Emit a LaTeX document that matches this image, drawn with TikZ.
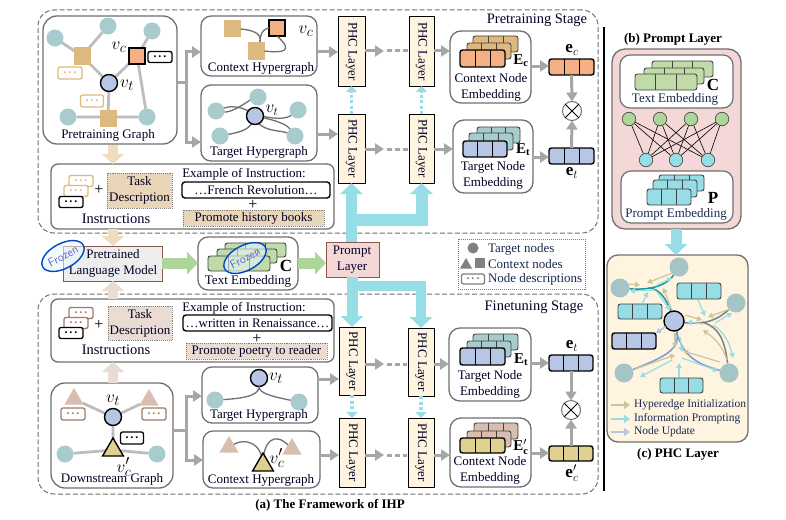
\documentclass[tikz,border=0pt]{standalone}
\usepackage{fontspec}
\setmainfont{Liberation Serif}
\usetikzlibrary{arrows.meta,shapes.geometric,calc}
\definecolor{teal1}{HTML}{A8CCCE}
\definecolor{tan1}{HTML}{DDB97F}
\definecolor{tan2}{HTML}{E9D6B8}
\definecolor{tanL}{HTML}{EFDDC0}
\definecolor{orange1}{HTML}{F4B084}
\definecolor{blue1}{HTML}{B8C6E6}
\definecolor{green1}{HTML}{C0DBA8}
\definecolor{green2}{HTML}{AED59A}
\definecolor{cyan1}{HTML}{96DDE6}
\definecolor{cream}{HTML}{FFF4DF}
\definecolor{pink1}{HTML}{F4D7D7}
\definecolor{rose1}{HTML}{D9BEB0}
\definecolor{rose2}{HTML}{EADCD2}
\definecolor{yellow1}{HTML}{E0D08F}
\definecolor{edgeg}{HTML}{BDBDBD}
\definecolor{arrg}{HTML}{A6A6A6}
\definecolor{frame}{HTML}{707070}
\definecolor{brownb}{HTML}{8A5A48}
\definecolor{tealD}{HTML}{1A9A94}
\definecolor{blueD}{HTML}{7F9AD6}
\definecolor{ctan}{HTML}{C9C79A}
\definecolor{txtb}{HTML}{1A2A50}
\tikzset{
  base/.style={rectangle,inner sep=0pt,outer sep=0pt},
  stagebox/.style={base,draw=frame,line width=1pt,dash pattern=on 5pt off 2.5pt,rounded corners=16pt},
  panel/.style={base,draw=frame,line width=1.3pt,rounded corners=10pt,fill=white},
  lay/.style={base,draw=black,line width=1pt,fill=cream},
  dotbox/.style={base,draw=gray,densely dotted,line width=.9pt},
  txt/.style={inner sep=0pt,outer sep=0pt,font=\fontsize{13}{14}\selectfont,text=black!85!blue},
  big/.style={inner sep=0pt,outer sep=0pt,font=\fontsize{14.5}{15}\selectfont,text=black!85!blue},
  plus/.style={inner sep=0pt,outer sep=0pt,font=\fontsize{16}{16}\selectfont},
  small/.style={inner sep=0pt,outer sep=0pt,font=\fontsize{11.5}{12}\selectfont,text=txtb},
  legt/.style={inner sep=0pt,outer sep=0pt,anchor=west,font=\fontsize{13}{14}\selectfont,text=txtb},
  mid/.style={inner sep=0pt,outer sep=0pt,font=\fontsize{13}{14}\selectfont,text=txtb},
  ttl/.style={inner sep=0pt,outer sep=0pt,font=\bfseries\fontsize{13}{14}\selectfont},
  mathl/.style={inner sep=0pt,font=\fontsize{19}{19}\selectfont},
  mathe/.style={inner sep=0pt,font=\fontsize{15}{15}\selectfont},
  mathv/.style={inner sep=0pt,font=\fontsize{17}{17}\selectfont},
  boldl/.style={inner sep=0pt,font=\bfseries\fontsize{17}{17}\selectfont},
  tealn/.style={circle,fill=teal1,inner sep=0pt,outer sep=0pt,minimum size=17pt},
  vt/.style={circle,draw=black,line width=1.4pt,fill=blue1,inner sep=0pt,outer sep=0pt,minimum size=17pt},
  sqr/.style={rectangle,fill=tan1,inner sep=0pt,outer sep=0pt,minimum size=17pt},
  sqo/.style={rectangle,fill=orange1,draw=black,line width=1.4pt,inner sep=0pt,outer sep=0pt,minimum size=16pt},
  trir/.style={regular polygon,regular polygon sides=3,fill=rose1,inner sep=0pt,outer sep=0pt,minimum size=22pt},
  triy/.style={regular polygon,regular polygon sides=3,fill=yellow1,draw=black,line width=1.4pt,inner sep=0pt,outer sep=0pt,minimum size=24pt},
  gedge/.style={draw=edgeg,line width=2.8pt},
  hedge/.style={draw=frame,line width=1.3pt},
  garr/.style={draw=arrg,line width=3pt,-{Triangle[length=9pt,width=11pt]}},
  fatg/.style={draw=green2,line width=11pt,-{Triangle[length=11pt,width=22pt]}},
  fatc/.style={draw=cyan1,line width=11pt,-{Triangle[length=11pt,width=22pt]}},
  fatt/.style={draw=tanL,line width=10pt,-{Triangle[length=10pt,width=22pt]}},
  fatr/.style={draw=rose2,line width=10pt,-{Triangle[length=10pt,width=22pt]}},
  dotted cyan/.style={draw=cyan1,line width=3.2pt,dash pattern=on 3pt off 2.5pt,-{Triangle[length=6pt,width=11pt]}},
  dashes/.style={draw=arrg,line width=3pt,dash pattern=on 5pt off 3pt},
  frozen/.style={ellipse,draw=blue!65!cyan!80!black,line width=1.4pt,fill=cyan!8,fill opacity=.55,text opacity=1,text=black!35!blue!60!white,
     inner sep=0pt,outer sep=0pt,minimum width=46pt,minimum height=25pt,rotate=28,font=\fontsize{12}{12}\sffamily},
  sarr/.style={line width=1.2pt,-{Triangle[length=5pt,width=5.5pt]}},
  opr/.style={circle,draw=frame,line width=1pt,fill=white,inner sep=0pt,outer sep=0pt,minimum size=19pt},
}
% name, style, x1,y1,x2,y2
\newcommand\bx[6]{%
  \pgfmathsetmacro\bw{#5-#3}\pgfmathsetmacro\bh{#6-#4}%
  \pgfmathsetmacro\ccx{(#3+#5)/2}\pgfmathsetmacro\ccy{(#4+#6)/2}%
  \node[base,minimum width=\bw pt,minimum height=\bh pt,#2] (#1) at (\ccx,\ccy) {};}
% cell row: name, fill, x1,y1,x2,y2
\newcommand\cells[6]{%
  \bx{#1}{draw=black,line width=1.4pt,fill=#2,rounded corners=2.5pt}{#3}{#4}{#5}{#6}%
  \draw[black,line width=1pt] ($(#1.south west)!.3333!(#1.south east)$) -- ($(#1.north west)!.3333!(#1.north east)$);%
  \draw[black,line width=1pt] ($(#1.south west)!.6667!(#1.south east)$) -- ($(#1.north west)!.6667!(#1.north east)$);}
\newcommand\cellsT[6]{%
  \bx{#1}{draw=black!75,line width=.9pt,fill=#2,rounded corners=2.5pt}{#3}{#4}{#5}{#6}%
  \draw[black!75,line width=.9pt] ($(#1.south west)!.3333!(#1.south east)$) -- ($(#1.north west)!.3333!(#1.north east)$);%
  \draw[black!75,line width=.9pt] ($(#1.south west)!.6667!(#1.south east)$) -- ($(#1.north west)!.6667!(#1.north east)$);}
% dots box: name, colour, cx, cy, w, h
\newcommand\descbox[6]{%
  \node[base,draw=#2,line width=1.3pt,fill=white,rounded corners=2pt,minimum width=#5pt,minimum height=#6pt,text=#2,font=\bfseries\fontsize{12}{9}\selectfont] (#1) at (#3,#4) {.\kern2pt.\kern2pt.};}
% otimes: name, cx, cy
\newcommand\otim[3]{%
  \node[opr] (#1) at (#2,#3) {};%
  \draw[black,line width=.8pt] (#1.north west) -- (#1.south east) (#1.north east) -- (#1.south west);}
\begin{document}
\begin{tikzpicture}[x=1pt,y=-1pt]
\useasboundingbox (0,0) rectangle (786,519);
\fill[white] (0,0) rectangle (786,519);
% stage boxes
\bx{stageA}{stagebox}{38}{10}{598}{233}
\bx{stageB}{stagebox}{38}{294}{598}{494}
\draw[black,line width=1.6pt] (604,27) coordinate (sepA) -- (604,491) coordinate (sepB);
\node[big] (lblA) at (537,20) {Pretraining Stage};
\node[big] (lblB) at (534,307) {Finetuning Stage};
% ---- Pretraining graph
\bx{pg}{panel,rounded corners=14pt}{43}{16}{177}{144}
\node[tealn] (p1) at (55,38) {}; \node[tealn] (p2) at (108,26) {}; \node[tealn] (p3) at (152,31) {};
\node[tealn] (p4) at (68,117) {}; \node[tealn] (p5) at (147,117) {};
\coordinate (q1) at (82,56); \coordinate (q2) at (108,118); \coordinate (q3) at (137,56); \coordinate (q4) at (109,83);
\draw[gedge] (p1)--(q1) (p2)--(q1) (q1)--(q4) (p3)--(q3) (q3)--(q4) (q3)--(p5) (q4)--(q2) (p4)--(p5);
\node[sqr] (s1) at (q1) {}; \node[sqr] (s2) at (q2) {};
\node[sqo] (so) at (q3) {}; \node[vt] (pv) at (q4) {};
\descbox{d1}{tan1}{70}{73}{24}{12} \descbox{d2}{tan1}{92}{101}{23}{12} \descbox{d3}{black}{160}{57}{24}{11}
\node[mathl] (lvc) at (119,47) {$v_c$};
\node[mathl] (lvt) at (127,85) {$v_t$};
\node[txt] (tpg) at (108,135) {Pretraining Graph};
% Context hypergraph
\bx{ch}{panel}{201}{16}{317}{76}
\node[sqr] (c1) at (232,29) {}; \node[sqr] (c2) at (256,51) {}; \node[sqo] (c3) at (277,28) {};
\draw[hedge] (c1.east) .. controls (252,30) and (262,33) .. (260,42);
\draw[hedge] (c3.west) .. controls (266,28) and (260,31) .. (260,42);
\draw[hedge] (c2.east) .. controls (282,53) and (295,52) .. (c3.south);
\node[mathl] (lc2) at (306,31) {$v_c$};
\node[txt] (tch) at (261,68) {Context Hypergraph};
% Target hypergraph
\bx{th}{panel}{201}{85}{317}{161}
\node[tealn] (t1) at (258,97) {}; \node[tealn] (t2) at (216,111) {}; \node[tealn] (t3) at (298,110) {};
\node[tealn] (t4) at (220,136) {}; \node[tealn] (t5) at (295,136) {};
\draw[hedge] (t2) .. controls (232,113) and (250,100) .. (t1);
\draw[hedge] (t2) .. controls (235,104) and (250,110) .. (255,116);
\draw[hedge] (t3) .. controls (288,118) and (278,120) .. (262,116);
\draw[hedge] (255,116) .. controls (265,118) and (285,122) .. (t5);
\draw[hedge] (t4) .. controls (240,132) and (252,130) .. (255,116);
\draw[hedge] (255,116) .. controls (258,132) and (280,130) .. (t5);
\node[vt] (tv) at (255,116) {};
\node[mathv] (ltv) at (272,110) {$v_t$};
\node[txt] (tth) at (259,152) {Target Hypergraph};
% splits
\coordinate (sA) at (186,82);
\draw[draw=arrg,line width=3pt] (pg.east |- sA) -- (sA);
\draw[garr] (sA) |- (ch.west |- 0,52);
\draw[garr] (sA) |- (th.west |- 0,142);
% Instructions A
\bx{ia}{panel,rounded corners=7pt}{51}{164}{334}{229}
\descbox{ia1}{tan1}{81}{181}{24}{11} \descbox{ia2}{tan1}{76}{191}{24}{11} \descbox{ia3}{black}{71}{202}{24}{11}
\node[plus] (iap) at (99,190) {+};
\bx{iat}{dotbox,fill=tan2}{107}{173}{172}{208}
\node[txt,align=center] (iatt) at (iat) {Task\\[2pt]Description};
\node[big] (iatx) at (116,219) {Instructions};
\node[txt] (iaex) at (244,174) {Example of Instruction:};
\bx{iab}{draw=black,line width=1.4pt,rounded corners=3pt}{182}{182}{330}{198}
\node[txt] (iabt) at (iab) {…French Revolution…};
\node[plus] (iapl) at (253,205) {+};
\bx{iac}{dotbox,fill=tan2}{183}{210}{324}{226}
\node[txt] (iact) at (iac) {Promote history books};
% Fat arrows left
\coordinate (pgb) at (113,145);
\coordinate (iat0) at (113,164);
\draw[fatt] (pgb) -- (iat0);
% Finetuning instructions
\bx{ib}{panel,rounded corners=7pt}{51}{299}{334}{362}
\descbox{ib1}{brownb!70!rose1}{81}{313}{24}{11} \descbox{ib2}{brownb!70!rose1}{76}{323}{24}{11} \descbox{ib3}{black}{71}{333}{24}{11}
\node[plus] (ibp) at (99,325) {+};
\bx{ibt}{dotbox,fill=rose2}{108}{306}{172}{340}
\node[txt,align=center] (ibtt) at (ibt) {Task\\[2pt]Description};
\node[big] (ibtx) at (116,350) {Instructions};
\node[txt] (ibex) at (244,308) {Example of Instruction:};
\bx{ibb}{draw=black,line width=1.4pt,rounded corners=3pt}{183}{315}{332}{331}
\node[txt] (ibbt) at (ibb) {…written in Renaissance…};
\node[plus] (ibpl) at (257,339) {+};
\bx{ibc}{dotbox,fill=rose2}{186}{343}{327}{359}
\node[txt] (ibct) at (ibc) {Promote poetry to reader};
% Language model
\bx{lm}{draw=brownb,line width=1pt,fill=black!7}{63}{246}{162}{281}
\node[txt,align=center] (lmt) at (113,263) {Pretrained\\[2pt]Language Model};
\coordinate (ia0) at (113,229); \coordinate (ib0) at (113,299); \coordinate (lm0) at (113,246); \coordinate (lm1) at (113,281);
\draw[fatt] (ia0) -- (lm0);
\draw[fatr] (ib0) -- (lm1);
\node[frozen] (fz1) at (63,256) {Frozen};
% Text embedding
\bx{te}{panel}{198}{237}{298}{290}
\cellsT{te3}{green1}{225}{243}{286}{257}
\cellsT{te2}{green1}{217}{249}{277}{263}
\cellsT{te1}{green1}{208}{256}{270}{271}
\node[boldl] (tec) at (286,266) {C};
\node[txt] (tet) at (248,281) {Text Embedding};
\node[frozen] (fz2) at (245,258) {Frozen};
% Prompt layer
\bx{pl}{draw=brownb,line width=1pt,fill=pink1}{326}{242}{379}{277}
% PHC layers
\bx{a1}{lay}{338}{17}{365}{86} \bx{a2}{lay}{409}{17}{434}{86}
\bx{b1}{lay}{338}{114}{365}{183} \bx{b2}{lay}{409}{114}{434}{183}
\bx{f1}{lay}{339}{327}{365}{395} \bx{f2}{lay}{408}{328}{434}{396}
\bx{g1}{lay}{339}{418}{365}{487} \bx{g2}{lay}{408}{418}{434}{487}
\foreach \n/\m in {a1/ta1,a2/ta2,b1/tb1,b2/tb2,f1/tf1,f2/tf2,g1/tg1,g2/tg2}{\node[txt,rotate=-90] (\m) at (\n) {PHC Layer};}
% cyan arrows
\coordinate (j1) at (352,220); \coordinate (j2) at (352,286);
\draw[fatc] (pl.north -| b1.south) -- (b1.south);
\draw[draw=cyan1,line width=12pt,-{Triangle[length=11pt,width=22pt]}] (j1) -| (b2.south);
\draw[fatc] (pl.south -| f1.north) -- (f1.north);
\draw[draw=cyan1,line width=10pt,-{Triangle[length=11pt,width=22pt]}] (j2) -| (f2.north);
\node[txt,align=center] (plt) at (352,260) {Prompt\\[2pt]Layer};
\draw[dotted cyan] (b1.north) -- (a1.south);
\draw[dotted cyan] (b2.north) -- (a2.south);
\draw[dotted cyan] (f1.south) -- (g1.north);
\draw[dotted cyan] (f2.south) -- (g2.north);
% green arrows
\draw[fatg] (lm.east |- 0,263) -- (te.west |- 0,263);
\draw[fatg] (te.east |- 0,263) -- (pl.west |- 0,263);
% hyper -> PHC
\draw[garr] (ch.east |- 0,52) -- (a1.west |- 0,52);
\draw[garr] (th.east |- 0,134) -- (b1.west |- 0,134);
% row helpers
\foreach \l/\r/\y/\nm in {a1/a2/51/ra,b1/b2/149/rb,f1/f2/364/rf,g1/g2/455/rg}{
  \coordinate (\nm0) at ($(\l.east |- 0,\y)+(19,0)$);
  \coordinate (\nm1) at ($(\r.west |- 0,\y)+(-1,0)$);
  \draw[garr] (\l.east |- 0,\y) -- (\nm0);
  \draw[dashes] ($(\nm0)+(3,0)$) -- (\nm1);
}
% Node embedding boxes
\bx{ec}{panel,rounded corners=11pt}{450}{31}{531}{103}
\cellsT{ec3}{tan1}{473}{36}{518}{52} \cellsT{ec2}{tan1}{467}{43}{511}{59} \cells{ec1}{orange1}{460}{50}{505}{67}
\node[mathe] (ecl) at (521,61) {$\mathbf{E_c}$};
\node[txt,align=center] (ect) at (491,87) {Context Node\\[2pt]Embedding};
\bx{et}{panel,rounded corners=11pt}{453}{120}{533}{193}
\cellsT{et3}{teal1}{477}{127}{520}{143} \cellsT{et2}{teal1}{469}{133}{513}{150} \cells{et1}{blue1}{463}{141}{507}{157}
\node[mathe] (etl) at (523,150) {$\mathbf{E_t}$};
\node[txt,align=center] (ett) at (493,175) {Target Node\\[2pt]Embedding};
\bx{ft}{panel,rounded corners=11pt}{449}{328}{531}{401}
\cellsT{ft3}{teal1}{473}{334}{518}{350} \cellsT{ft2}{teal1}{467}{341}{511}{357} \cells{ft1}{blue1}{460}{348}{505}{365}
\node[mathe] (ftl) at (521,360) {$\mathbf{E_t}$};
\node[txt,align=center] (ftt) at (490,384) {Target Node\\[2pt]Embedding};
\bx{fc}{panel,rounded corners=11pt}{450}{418}{531}{487}
\cellsT{fc3}{rose1}{474}{423}{518}{439} \cellsT{fc2}{rose1}{467}{431}{511}{447} \cells{fc1}{yellow1}{460}{438}{505}{453}
\node[mathe] (fcl) at (521,447) {$\mathbf{E'_c}$};
\node[txt,align=center] (fct) at (490,470) {Context Node\\[2pt]Embedding};
% PHC -> embedding
\draw[garr] (a2.east |- 0,51) -- (ec.west |- 0,51);
\draw[garr] (b2.east |- 0,149) -- (et.west |- 0,149);
\draw[garr] (f2.east |- 0,364) -- (ft.west |- 0,364);
\draw[garr] (g2.east |- 0,455) -- (fc.west |- 0,455);
% e vectors
\cells{ve1}{orange1}{549}{59}{594}{75}
\cells{ve2}{blue1}{549}{148}{594}{164}
\cells{ve3}{blue1}{549}{355}{593}{371}
\cells{ve4}{yellow1}{549}{446}{593}{461}
\node[mathv] (le1) at (572,50) {$\mathbf{e}_c$};
\node[mathv] (le2) at (572,173) {$\mathbf{e}_t$};
\node[mathv] (le3) at (572,346) {$\mathbf{e}_t$};
\node[mathv] (le4) at (572,473) {$\mathbf{e}'_c$};
\otim{o1}{572}{111} \otim{o2}{571}{410}
\draw[garr] (ve1.south) -- (o1.north); \draw[garr] (ve2.north) -- (o1.south);
\draw[garr] (ve3.south) -- (o2.north); \draw[garr] (ve4.north) -- (o2.south);
\draw[garr] (ec.east |- 0,66) -- (ve1.west |- 0,66);
\draw[garr] (et.east |- 0,157) -- (ve2.west |- 0,157);
\draw[garr] (ft.east |- 0,363) -- (ve3.west |- 0,363);
\draw[garr] (fc.east |- 0,453) -- (ve4.west |- 0,453);
% Legend
\bx{lg}{draw=gray,densely dotted,line width=1pt}{458}{239}{585}{289}
\node[circle,fill=gray,inner sep=0pt,minimum size=11pt] (lg1) at (473,248) {};
\node[regular polygon,regular polygon sides=3,fill=gray,inner sep=0pt,minimum size=14pt] (lg2) at (466,265) {};
\node[rectangle,fill=gray,inner sep=0pt,minimum size=10pt] (lg3) at (480,263) {};
\descbox{lg4}{gray}{473}{279}{23}{10}
\node[legt] (lgt1) at (488,249) {Target nodes};
\node[legt] (lgt2) at (488,264) {Context nodes};
\node[legt] (lgt3) at (488,279) {Node descriptions};
% Downstream graph
\bx{dg}{panel,rounded corners=14pt}{51}{383}{173}{488}
\node[trir] (dt1) at (74,399) {}; \node[trir] (dt2) at (149,400) {};
\node[tealn] (dn1) at (65,454) {}; \node[tealn] (dn2) at (157,454) {};
\coordinate (dv0) at (113,417); \coordinate (dy0) at (113,450);
\draw[gedge] (dt1) -- (dv0) -- (dt2) (dv0) -- (dy0) (dn1) -- (dy0) -- (dn2);
\node[vt] (dv) at (dv0) {};
\node[triy] (dy) at (dy0) {};
\descbox{dd1}{brownb!70!rose1}{73}{414}{24}{12} \descbox{dd2}{brownb!70!rose1}{154}{414}{24}{12} \descbox{dd3}{black}{132}{438}{23}{12}
\node[mathl] (ldv) at (113,400) {$v_t$};
\node[mathl] (ldc) at (124,467) {$v'_c$};
\node[txt] (tdg) at (112,479) {Downstream Graph};
\draw[fatr] (dg.north -| ib0) -- (ib.south -| ib0);
% Target hypergraph 2
\bx{th2}{panel}{202}{367}{318}{423}
\node[vt] (v2) at (259,378) {}; \node[tealn] (n21) at (215,400) {}; \node[tealn] (n22) at (299,402) {};
\draw[hedge] (v2) .. controls (259,393) and (252,398) .. (n21);
\draw[hedge] (v2) .. controls (259,393) and (270,396) .. (n22);
\node[mathl] (l2v) at (276,378) {$v_t$};
\node[txt] (tth2) at (259,415) {Target Hypergraph};
% Context hypergraph 2
\bx{ch2}{panel}{203}{431}{320}{488}
\node[trir] (c21) at (229,447) {}; \node[trir] (c22) at (292,449) {};
\coordinate (cy0) at (263,465);
\draw[hedge] (c21) .. controls (245,438) and (262,442) .. (cy0);
\draw[hedge] (c22) .. controls (275,432) and (263,440) .. (cy0);
\node[triy] (cy) at (cy0) {};
\node[mathl] (l2c) at (277,458) {$v'_c$};
\node[txt] (tch2) at (261,480) {Context Hypergraph};
% splits 2
\coordinate (sB) at (186,430);
\draw[draw=arrg,line width=3pt] (dg.east |- sB) -- (sB);
\draw[garr] (sB) |- (th2.west |- 0,396);
\draw[garr] (sB) |- (ch2.west |- 0,460);
\draw[garr] (th2.east |- 0,379) -- (f1.west |- 0,379);
\draw[garr] (ch2.east |- 0,455) -- (g1.west |- 0,455);
\node[ttl] (capa) at (330,505) {(a) The Framework of IHP};
% ---- Prompt layer panel
\node[ttl] (capb) at (673,39) {(b) Prompt Layer};
\bx{pp}{draw=frame,line width=1.3pt,fill=pink1,rounded corners=13pt}{612}{49}{741}{229}
\bx{pt}{panel,line width=1.2pt}{620}{55}{733}{108}
\cellsT{pt3}{green1}{652}{61}{713}{77} \cellsT{pt2}{green1}{644}{68}{704}{84} \cellsT{pt1}{green1}{635}{74}{697}{90}
\node[boldl] (ptc) at (713,85) {C};
\node[mid] (ptt) at (675,99) {Text Embedding};
\foreach \i/\x in {1/629,2/660,3/691,4/722}{\node[circle,draw=black!70,line width=.7pt,fill=green2,inner sep=0pt,minimum size=13.5pt] (gn\i) at (\x,119) {};}
\foreach \j/\x in {1/646,2/676,3/708}{\node[circle,draw=black!70,line width=.7pt,fill=cyan1,inner sep=0pt,minimum size=13.5pt] (hn\j) at (\x,160) {};}
\foreach \i in {1,2,3,4}{\foreach \j in {1,2,3}{\draw[black,line width=.6pt] (gn\i) -- (hn\j);}}
\bx{pe}{panel,line width=1.2pt}{621}{171}{733}{223}
\cellsT{pe3}{cyan1}{659}{175}{704}{191} \cellsT{pe2}{cyan1}{653}{180}{697}{197} \cellsT{pe1}{cyan1}{647}{189}{691}{205}
\node[boldl] (pec) at (713,198) {P};
\node[mid] (pet) at (676,214) {Prompt Embedding};
% ---- PHC panel
\bx{ph}{draw=frame,line width=1.3pt,fill=cream,rounded corners=11pt}{607}{255}{748}{442}
\draw[fatc] (pp.south -| 676,0) -- (ph.north -| 676,0);
\coordinate (xv) at (674,321);
\node[circle,fill=teal1!90!gray,inner sep=0pt,minimum size=19pt] (x1) at (679,267) {};
\node[circle,fill=teal1!90!gray,inner sep=0pt,minimum size=19pt] (x2) at (620,288) {};
\node[circle,fill=teal1!90!gray,inner sep=0pt,minimum size=19pt] (x3) at (736,303) {};
\node[circle,fill=teal1!90!gray,inner sep=0pt,minimum size=19pt] (x4) at (624,373) {};
\node[circle,fill=teal1!90!gray,inner sep=0pt,minimum size=19pt] (x5) at (729,373) {};
\draw[tealD,line width=1.5pt] (x2) .. controls (645,290) and (665,288) .. (x1);
\draw[tealD,line width=1.5pt] (648,288) .. controls (660,288) and (668,300) .. (xv);
\draw[gray,line width=1.5pt] (xv) .. controls (695,325) and (712,325) .. (x3);
\draw[gray,line width=1.5pt] (702,322) .. controls (722,328) and (725,345) .. (x5);
\draw[blueD,line width=1.5pt] (xv) .. controls (682,345) and (678,352) .. (x4);
\draw[blueD,line width=1.5pt] (xv) .. controls (680,352) and (690,362) .. (x5);
\node[vt,minimum size=20pt] (xc) at (xv) {};
\cellsT{xa}{cyan1}{618}{304}{662}{319}
\cellsT{xb}{cyan1}{677}{283}{721}{299}
\cellsT{xd}{cyan1}{660}{378}{703}{393}
\cells{xe}{blue1}{612}{333}{656}{349}
\draw[sarr,ctan] (629,284) -- (640,285);
\draw[sarr,ctan] (672,273) -- (647,283);
\draw[sarr,ctan] (672,310) -- (663,288);
\draw[sarr,ctan] (685,315) -- (702,320);
\draw[sarr,ctan] (730,309) -- (708,317);
\draw[sarr,ctan] (727,360) .. controls (722,345) and (714,338) .. (703,330);
\draw[sarr,ctan] (675,333) -- (675,348);
\draw[sarr,ctan] (635,369) -- (675,355);
\draw[sarr,ctan] (720,362) -- (683,351);
\draw[sarr,cyan1] (642,304) -- (648,292);
\draw[sarr,cyan1] (655,290) -- (630,291);
\draw[sarr,cyan1] (657,285) -- (672,278);
\draw[sarr,cyan1] (657,292) -- (670,310);
\draw[sarr,cyan1] (698,300) -- (705,316);
\draw[sarr,cyan1] (703,324) -- (687,322);
\draw[sarr,cyan1] (715,323) -- (732,313);
\draw[sarr,cyan1] (713,325) .. controls (725,332) and (730,345) .. (733,358);
\draw[sarr,cyan1] (680,337) -- (682,352);
\draw[sarr,cyan1] (679,377) -- (679,363);
\draw[sarr,cyan1] (672,360) -- (640,377);
\draw[sarr,cyan1] (682,358) -- (718,371);
\draw[sarr,blue1,line width=1.6pt] (xc) -- (xe.north east);
\coordinate (la1) at (611,405); \coordinate (la2) at (630,405);
\coordinate (lb1) at (611,419); \coordinate (lb2) at (630,419);
\coordinate (lc1) at (611,432); \coordinate (lc2) at (630,432);
\draw[ctan,line width=1.8pt,-{Triangle[length=6pt,width=8pt]}] (la1) -- (la2);
\draw[cyan1,line width=1.8pt,-{Triangle[length=6pt,width=8pt]}] (lb1) -- (lb2);
\draw[blue1,line width=1.8pt,-{Triangle[length=6pt,width=8pt]}] (lc1) -- (lc2);
\node[small,anchor=west] (l1) at (634,405) {Hyperedge Initialization};
\node[small,anchor=west] (l2) at (634,419) {Information Prompting};
\node[small,anchor=west] (l3) at (634,432) {Node Update};
\node[ttl] (capc) at (678,454) {(c) PHC Layer};
\end{tikzpicture}
\end{document}
